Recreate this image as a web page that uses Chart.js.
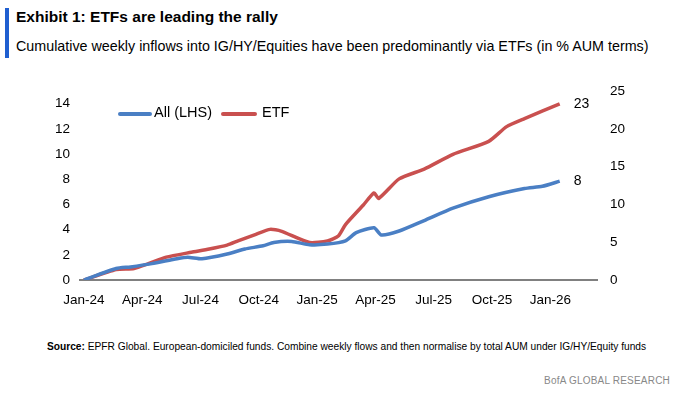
<!DOCTYPE html>
<html><head><meta charset="utf-8">
<script src="https://cdn.jsdelivr.net/npm/chart.js@4/dist/chart.umd.min.js"></script>
<style>
body{margin:0;width:692px;height:404px;background:#fff;font-family:"Liberation Sans",Arial,sans-serif;position:relative;overflow:hidden}
#bar{position:absolute;left:5px;top:8px;width:4px;height:50px;background:#1f5fd0}
#t{position:absolute;left:16px;top:8px;font-size:15.5px;font-weight:bold;color:#000}
#s{position:absolute;left:16px;top:38px;font-size:14.3px;color:#000}
#src{position:absolute;left:47px;top:341px;font-size:10.2px;color:#000}
#bofa{position:absolute;right:22px;top:375px;font-size:10px;color:#888;letter-spacing:0.2px}
#wrap{position:absolute;left:40px;top:70px;width:620px;height:250px}
.lg{position:absolute;top:104px;font-size:14.5px;color:#000}
.ln{position:absolute;top:112px;height:4px;border-radius:2px}
</style></head><body>
<div id="bar"></div>
<div id="t">Exhibit 1: ETFs are leading the rally</div>
<div id="s">Cumulative weekly inflows into IG/HY/Equities have been predominantly via ETFs (in % AUM terms)</div>
<div id="wrap"><canvas id="c" width="620" height="250"></canvas></div>
<div class="ln" style="left:118px;width:34px;background:#4a7fc4"></div><div class="lg" style="left:154px">All (LHS)</div>
<div class="ln" style="left:221px;width:36px;background:#c9504f"></div><div class="lg" style="left:262px">ETF</div>
<div id="src"><b>Source:</b> EPFR Global. European-domiciled funds. Combine weekly flows and then normalise by total AUM under IG/HY/Equity funds</div>
<div id="bofa">BofA GLOBAL RESEARCH</div>
<script>
const tickMonths=[0,3,6,9,12,15,18,21,24];
const tickLabels=["Jan-24","Apr-24","Jul-24","Oct-24","Jan-25","Apr-25","Jul-25","Oct-25","Jan-26"];
const allX=[0,1.66,2.4,3.5,4.79,5.34,6.08,7.37,8.29,9.22,9.77,10.69,11.61,12.53,13.46,14.01,14.93,15.3,16.22,17.51,18.99,20.83,22.67,23.59,24.48];
const allY=[0,0.91,1.04,1.3,1.69,1.81,1.69,2.07,2.46,2.72,2.98,3.06,2.8,2.85,3.11,3.76,4.15,3.58,3.89,4.72,5.7,6.61,7.26,7.44,7.85];
const etfX=[0,1.66,2.58,3.32,4.24,5.53,6.45,7.37,7.93,8.85,9.58,10.14,11.61,12.53,13.09,13.46,14.38,14.93,15.17,16.22,17.51,18.99,20.83,21.75,22.67,24.48];
const etfY=[0,1.38,1.51,2.16,3.02,3.67,4.1,4.62,5.18,6.05,6.7,6.48,4.96,5.18,5.83,7.34,9.93,11.53,10.8,13.38,14.68,16.62,18.35,20.3,21.37,23.3];
const pts=(xs,ys)=>xs.map((x,i)=>({x:x,y:ys[i]}));
const endLabels={id:'endLabels',afterDatasetsDraw(ch){const c=ch.ctx;c.save();c.font='14px "Liberation Sans",Arial';c.fillStyle='#000';c.textBaseline='middle';
ch.data.datasets.forEach((d,i)=>{const m=ch.getDatasetMeta(i);const p=m.data[m.data.length-1];c.fillText(String(Math.round(d.data[d.data.length-1].y)),p.x+14,p.y);});c.restore();}};
new Chart(document.getElementById('c'),{type:'line',
data:{datasets:[
{label:'All (LHS)',data:pts(allX,allY),borderColor:'#4a7fc4',borderWidth:3.5,pointRadius:0,yAxisID:'y',tension:0.2},
{label:'ETF',data:pts(etfX,etfY),borderColor:'#c9504f',borderWidth:3.5,pointRadius:0,yAxisID:'y1',tension:0.2}]},
options:{responsive:false,animation:false,layout:{padding:{top:13,left:0,right:0,bottom:0}},
plugins:{legend:{display:false},tooltip:{enabled:false}},
scales:{
x:{type:'linear',min:-0.2,max:26.4,afterBuildTicks(a){a.ticks=tickMonths.map(v=>({value:v}));},
ticks:{callback:(v)=>tickLabels[tickMonths.indexOf(v)],color:'#000',font:{size:13.5,family:'"Liberation Sans",Arial'},maxRotation:0,autoSkip:false,padding:4},
grid:{display:false},border:{color:'#808080',width:2},afterFit(a){a.height=40;}},
y:{position:'left',min:0,max:15,afterBuildTicks(a){a.ticks=[0,2,4,6,8,10,12,14].map(v=>({value:v}));},
ticks:{color:'#000',font:{size:13.5,family:'"Liberation Sans",Arial'},padding:10},grid:{display:false,drawTicks:false},border:{display:false},afterFit(a){a.width=40;}},
y1:{position:'right',min:0,max:25,afterBuildTicks(a){a.ticks=[0,5,10,15,20,25].map(v=>({value:v}));},
ticks:{color:'#000',font:{size:13.5,family:'"Liberation Sans",Arial'},padding:13},grid:{display:false,drawTicks:false},border:{display:false},afterFit(a){a.width=63;}}
}},plugins:[endLabels]});
</script></body></html>
